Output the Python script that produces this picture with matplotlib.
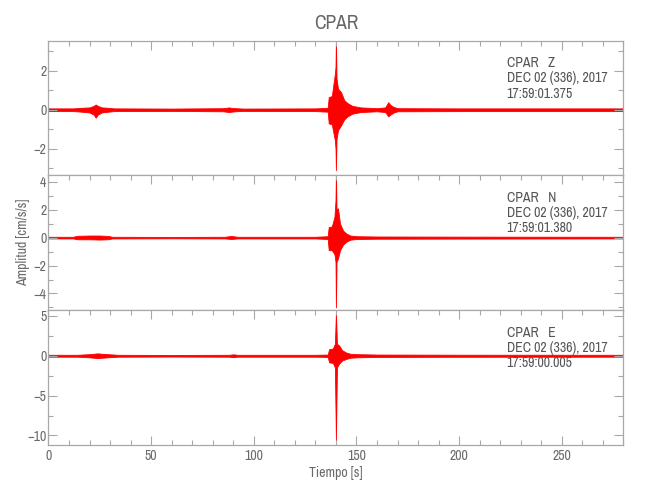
import matplotlib
matplotlib.use("Agg")
import matplotlib.pyplot as plt
from matplotlib import font_manager
from matplotlib.ticker import MultipleLocator

# ---------------- data (envelopes) ----------------
station = "CPAR"
components = ["Z", "N", "E"]
start_times = ["17:59:01.375", "17:59:01.380", "17:59:00.005"]
date_label = "DEC 02 (336), 2017"

# Z component envelope
z_t = [0, 12, 16, 20, 22, 23, 24, 26, 29, 32, 60, 85, 88, 89, 91, 95, 130,
       136, 136.5, 138, 139.5, 139.8, 140.0, 140.3, 141, 142.5, 144, 145.5,
       148, 152, 160, 164, 165.5, 166.5, 168, 170, 200, 280]
z_hi = [0.07, 0.07, 0.1, 0.12, 0.2, 0.27, 0.2, 0.12, 0.1, 0.07, 0.06, 0.08,
        0.12, 0.1, 0.08, 0.06, 0.07, 0.1, 0.65, 0.7, 1.85, 2.2, 3.6, 1.6,
        1.08, 0.9, 0.5, 0.35, 0.2, 0.12, 0.08, 0.12, 0.39, 0.25, 0.15, 0.08,
        0.07, 0.07]
z_lo = [-0.07, -0.07, -0.1, -0.14, -0.25, -0.41, -0.25, -0.14, -0.1, -0.07,
        -0.06, -0.08, -0.12, -0.1, -0.08, -0.06, -0.07, -0.1, -0.7, -0.75,
        -1.57, -2.0, -3.1, -1.5, -1.06, -0.8, -0.5, -0.35, -0.2, -0.12,
        -0.08, -0.12, -0.34, -0.25, -0.15, -0.08, -0.07, -0.07]

# N component envelope
n_t = [0, 12, 14, 20, 25, 29, 31, 60, 86, 89, 92, 130, 136, 136.5, 138,
       139.3, 139.8, 140.0, 140.3, 141, 142, 143.5, 145, 147, 150, 160, 200,
       280]
n_hi = [0.06, 0.06, 0.13, 0.15, 0.15, 0.12, 0.06, 0.05, 0.06, 0.12, 0.06,
        0.06, 0.1, 0.76, 0.8, 1.5, 2.7, 4.6, 2.0, 2.1, 1.0, 0.5, 0.3, 0.15,
        0.1, 0.08, 0.07, 0.06]
n_lo = [-0.06, -0.06, -0.12, -0.12, -0.14, -0.12, -0.06, -0.05, -0.06,
        -0.1, -0.06, -0.06, -0.1, -0.9, -0.9, -1.2, -1.74, -5.0, -1.74,
        -1.5, -0.9, -0.5, -0.3, -0.15, -0.1, -0.08, -0.07, -0.06]

# E component envelope
e_t = [0, 14, 20, 24, 26, 30, 34, 60, 88, 90, 92, 130, 136, 136.7, 138.5,
       139.5, 140.0, 140.5, 141.5, 143, 145, 147, 150, 160, 200, 280]
e_hi = [0.12, 0.12, 0.2, 0.3, 0.25, 0.18, 0.12, 0.1, 0.12, 0.18, 0.12, 0.12,
        0.15, 0.83, 0.9, 1.5, 5.4, 1.5, 1.3, 0.7, 0.4, 0.25, 0.2, 0.15, 0.13,
        0.12]
e_lo = [-0.12, -0.12, -0.2, -0.3, -0.25, -0.18, -0.12, -0.1, -0.12, -0.18,
        -0.12, -0.12, -0.15, -0.83, -0.9, -1.46, -10.6, -1.46, -1.0, -0.6,
        -0.4, -0.25, -0.2, -0.15, -0.13, -0.12]

traces = [(z_t, z_hi, z_lo), (n_t, n_hi, n_lo), (e_t, e_hi, e_lo)]
ylims = [(-3.37, 3.54), (-5.2, 4.45), (-11.2, 5.71)]
ymajor = [2, 2, 5]
yminor = [1, 1, 2.5]

# ---------------- font: prefer a narrow face ----------------
fonts = font_manager.fontManager.ttflist
narrow = None
for f in fonts:
    if "Narrow" in f.name or "Condensed" in f.name:
        narrow = (f.name, "normal")
        break
if narrow is None:
    for f in fonts:
        if str(f.stretch) in ("condensed", "semi-condensed", "extra-condensed") \
                or (isinstance(f.stretch, int) and f.stretch < 500):
            narrow = (f.name, "condensed")
            break
if narrow is not None:
    plt.rcParams["font.family"] = [narrow[0], "DejaVu Sans"]
    plt.rcParams["font.stretch"] = narrow[1]
    fs_small, fs_title = 10, 14
else:
    plt.rcParams["font.family"] = ["DejaVu Sans"]
    fs_small, fs_title = 7.5, 13

frame_c = "#a8a8a8"
text_c = "#6a6a6a"
red = "#ff0000"

fig = plt.figure(figsize=(6.5, 5.0), dpi=100)
gs = fig.add_gridspec(3, 1, left=0.0746, right=0.959, top=0.9186,
                      bottom=0.11, hspace=0)
axes = [fig.add_subplot(gs[i]) for i in range(3)]

for i, ax in enumerate(axes):
    t, hi, lo = traces[i]
    ax.fill_between(t, lo, hi, color=red, linewidth=0.6, edgecolor=red)
    ax.set_xlim(0, 280)
    ax.set_ylim(*ylims[i])
    ax.xaxis.set_major_locator(MultipleLocator(50))
    ax.xaxis.set_minor_locator(MultipleLocator(10))
    ax.yaxis.set_major_locator(MultipleLocator(ymajor[i]))
    ax.yaxis.set_minor_locator(MultipleLocator(yminor[i]))
    last = (i == 2)
    ax.tick_params(which="both", direction="in", top=True, right=True,
                   bottom=last, labelbottom=last, color=frame_c,
                   labelcolor=text_c, labelsize=fs_small, width=0.8)
    ax.tick_params(which="major", length=6.5)
    ax.tick_params(which="minor", length=3.3)
    ax.tick_params(axis="y", pad=1.5)
    ax.tick_params(axis="x", pad=3)
    for sp in ax.spines.values():
        sp.set_color(frame_c)
        sp.set_linewidth(0.9)
    for k, (txt, dy) in enumerate([(f"{station}   {components[i]}", -11),
                                   (date_label, -22),
                                   (start_times[i], -33)]):
        ax.annotate(txt, xy=(0.797, 1.0), xycoords="axes fraction",
                    xytext=(0, dy), textcoords="offset points", va="top",
                    ha="left", fontsize=fs_small, color="#555555")

axes[2].set_xlabel("Tiempo [s]", fontsize=fs_small, color=text_c, labelpad=2)
fig.text(0.036, 0.515, "Amplitud [cm/s/s]", rotation=90, ha="center",
         va="center", fontsize=fs_small, color=text_c)
fig.suptitle(station, x=0.517, y=0.972, fontsize=fs_title, color="#666666")

fig.savefig("out.png", dpi=100)
